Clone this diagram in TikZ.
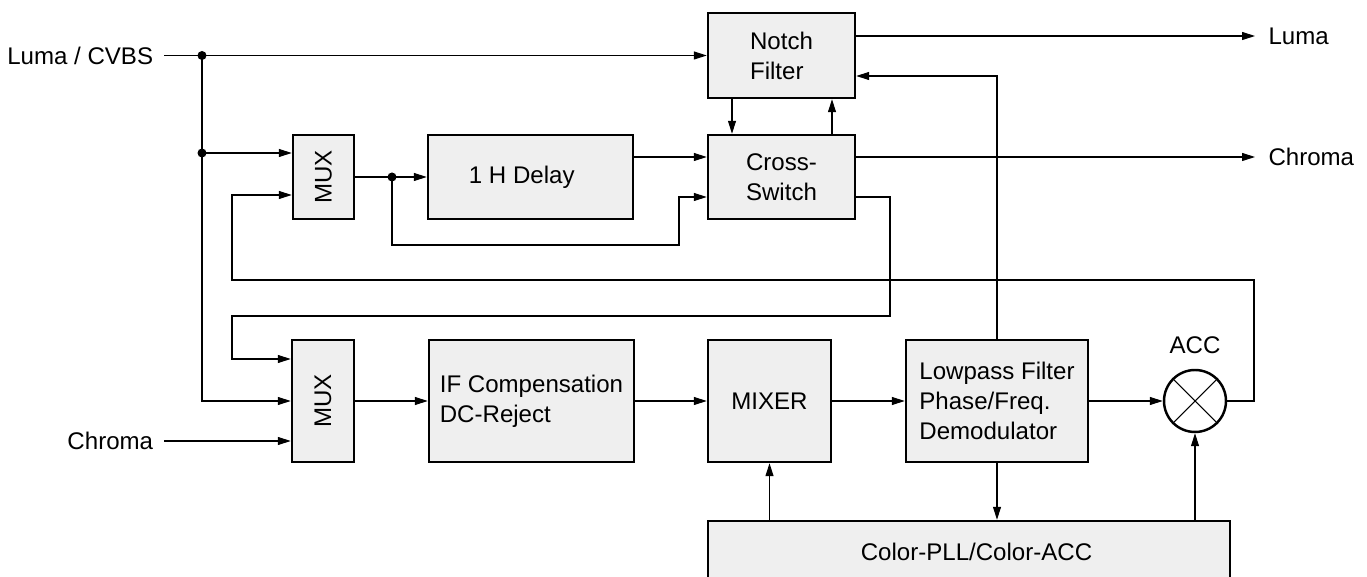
\documentclass[tikz,border=0pt]{standalone}
\usepackage{fontspec}
\setmainfont{Liberation Sans}
\usetikzlibrary{arrows.meta, positioning, calc}
\definecolor{blockgray}{HTML}{EFEFEF}
\tikzset{
    block/.style={draw, line width=1.4pt, fill=blockgray, align=left, inner sep=2pt},
    sig/.style={line width=0.6pt},
    sigarr/.style={sig, -{Triangle[length=2.6mm, width=1.6mm]}},
    junc/.style={circle, fill, inner sep=0pt, minimum size=0.18cm},
    port/.style={inner sep=6pt}
}

\begin{document}
\begin{tikzpicture}[x=0.02cm, y=-0.02cm, font=\fontsize{13.7}{17}\selectfont]
        \useasboundingbox (0, 0) rectangle (1367, 577);
        \node[block, minimum width=2.94cm, minimum height=1.70cm] (notch) at (781.5, 55.5) {Notch\\Filter};
        \node[block, minimum width=2.94cm, minimum height=1.68cm] (cross) at (781.5, 177) {Cross-\\Switch};
        \node[block, minimum width=4.10cm, minimum height=1.68cm] (delay) at (530.5, 177) {1 H Delay\hspace{0.35cm}};
        \node[block, minimum width=1.22cm, minimum height=1.68cm] (muxa) at (323.5, 177) {\rotatebox{90}{MUX}};
        \node[block, minimum width=1.24cm, minimum height=2.44cm] (muxb) at (323, 401) {\rotatebox{90}{MUX}};
        \node[block, minimum width=4.10cm, minimum height=2.44cm] (ifc) at (531.5, 401) {IF Compensation\\DC-Reject};
        \node[block, minimum width=2.46cm, minimum height=2.44cm] (mixer) at (769.5, 401) {MIXER};
        \node[block, minimum width=3.64cm, minimum height=2.44cm] (lowpass) at (997, 401) {Lowpass Filter\\Phase/Freq.\\Demodulator};
        \node[block, minimum width=10.44cm, minimum height=1.24cm] (pll) at (969, 552) {\hspace{0.3cm}Color-PLL/Color-ACC};
        \node[draw, circle, line width=1.4pt, fill=white, minimum size=1.24cm] (acc) at (1195, 401) {};
        \node (acclbl) at (1195, 345) {ACC};
        \draw[sig] (acc.north west) -- (acc.south east) (acc.north east) -- (acc.south west);

        \node[port, anchor=east] (lumain) at (164, 55.5) {Luma / CVBS};
        \node[port, anchor=east] (chromain) at (164, 441) {Chroma};
        \node[port, anchor=west, inner sep=7.5pt] (lumaout) at (1255, 36) {Luma};
        \node[port, anchor=west, inner sep=7.5pt] (chromaout) at (1255, 157) {Chroma};

        \coordinate (j1) at (202, 55.5);
        \coordinate (j2) at (202, 153);
        \coordinate (j3) at (392, 177);
        \coordinate (fb1) at (679, 245);
        \coordinate (xb1) at (890, 316);
        \coordinate (xb2) at (232, 316);
        \coordinate (acc1) at (1254, 280);
        \coordinate (acc2) at (232, 280);

        \draw[sigarr] (lumain.east) -- (notch.west);
        \draw[sigarr] (j1) |- (muxb.west);
        \draw[sigarr] (j2) -- (muxa.west |- j2);
        \draw[sigarr] (muxa.east) -- (delay.west);
        \draw[sigarr] (j3) |- (fb1) |- ($(cross.west)+(0,20)$);
        \draw[sigarr] ($(delay.east)+(0,-20)$) -- ($(cross.west)+(0,-20)$);
        \draw[sigarr] ($(notch.south)+(-49.5,0)$) -- ($(cross.north)+(-49.5,0)$);
        \draw[sigarr] ($(cross.north)+(50.5,0)$) -- ($(notch.south)+(50.5,0)$);
        \draw[sigarr] ($(notch.east)+(0,-19.5)$) -- (lumaout.west);
        \draw[sigarr] ($(cross.east)+(0,-20)$) -- (chromaout.west);
        \draw[sigarr] ($(cross.east)+(0,20)$) -| (xb1) -- (xb2) |- ($(muxb.west)+(0,-42)$);
        \draw[sigarr] (lowpass.north) |- ($(notch.east)+(0,20.5)$);
        \draw[sigarr] (acc.east) -| (acc1) -- (acc2) |- ($(muxa.west)+(0,18)$);
        \draw[sigarr] (chromain.east) -- (muxb.west |- chromain.east);
        \draw[sigarr] (muxb.east) -- (ifc.west);
        \draw[sigarr] (ifc.east) -- (mixer.west);
        \draw[sigarr] (mixer.east) -- (lowpass.west);
        \draw[sigarr] (lowpass.east) -- (acc.west);
        \draw[sigarr] (lowpass.south) -- (lowpass.south |- pll.north);
        \draw[sigarr] (mixer.south |- pll.north) -- (mixer.south);
        \draw[sigarr] (acc.south |- pll.north) -- (acc.south);
        \node[junc] at (j1) {};
        \node[junc] at (j2) {};
        \node[junc] at (j3) {};
    \end{tikzpicture}
\end{document}
